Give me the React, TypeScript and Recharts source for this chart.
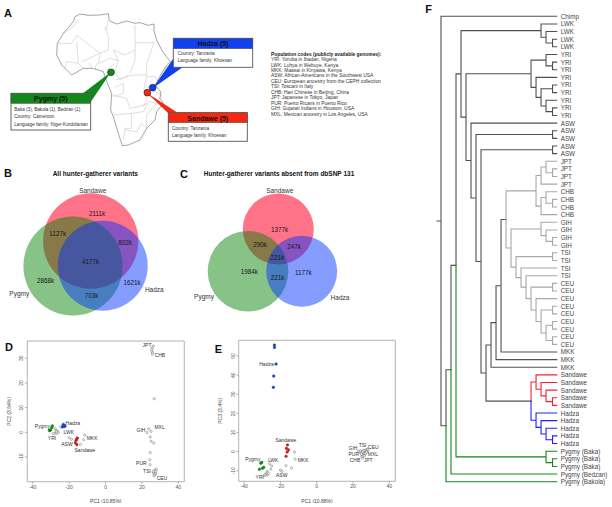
import { ComposedChart, Line, Scatter, ScatterChart, XAxis, YAxis, ReferenceArea } from 'recharts'

const FONT = '"Liberation Sans", Arial, sans-serif'
const DARK = '#505050'
const GRAY = '#a8a8a8'
const GREEN = '#12871a'
const RED = '#f5222d'
const BLUE = '#2222f0'

// ---------- panel A: map, traced in a 1260x495 grid ----------
const africaOutline = [
  [225, 50], [240, 42], [265, 46], [300, 45], [325, 41], [328, 62], [350, 72], [380, 63], [405, 70], [420, 68], [445, 76], [462, 72],
  [462, 92], [470, 120], [485, 150], [505, 178], [512, 184], [500, 195], [482, 225], [465, 255], [482, 275], [480, 295], [490, 310],
  [470, 335], [465, 360], [440, 385], [420, 420], [385, 435], [367, 437], [355, 400], [340, 350], [332, 330], [335, 280], [320, 245],
  [310, 215], [280, 205], [250, 205], [215, 225], [185, 195], [170, 165], [172, 130], [190, 100], [220, 65], [225, 50],
]
const countryBorders = [
  [[232, 62], [220, 80], [190, 100]],
  [[172, 130], [215, 130], [232, 105]],
  [[230, 105], [300, 160], [325, 150], [325, 110], [315, 80]],
  [[325, 62], [318, 90]],
  [[405, 75], [405, 150], [375, 165], [340, 150]],
  [[405, 128], [462, 128]],
  [[405, 150], [405, 180], [395, 205], [390, 220]],
  [[230, 125], [235, 190], [200, 185]],
  [[245, 185], [300, 160]],
  [[300, 165], [295, 190], [330, 175], [355, 182]],
  [[340, 150], [355, 182], [345, 215], [360, 240], [385, 225]],
  [[345, 240], [400, 225], [440, 225]],
  [[462, 128], [440, 190], [440, 225]],
  [[345, 262], [370, 250], [370, 280], [340, 290]],
  [[440, 225], [432, 265], [440, 300], [430, 320]],
  [[335, 285], [380, 295], [390, 325], [415, 320]],
  [[340, 345], [395, 340], [395, 385], [375, 385], [370, 420]],
  [[395, 340], [430, 335], [445, 310], [415, 320]],
  [[440, 260], [485, 285], [470, 310], [445, 305]],
  [[470, 310], [440, 345], [440, 385]],
  [[375, 390], [410, 395], [425, 370], [440, 385]],
  [[440, 230], [465, 230], [482, 255]],
  [[480, 225], [505, 195]],
  [[285, 210], [290, 190]],
  [[320, 210], [345, 190]],
  [[200, 185], [195, 205]],
  [[235, 190], [250, 205]],
  [[270, 190], [275, 205]],
]
const sites = [
  { x: 333, y: 217, fill: GREEN },
  { x: 458, y: 263, fill: '#1040f0' },
  { x: 442, y: 278, fill: '#f02a10' },
]
const populationCodes = [
  'YRI: Yoruba in Ibadan, Nigeria',
  'LWK: Luhya in Webuye, Kenya',
  'MKK: Maasai in Kinyawa, Kenya',
  'ASW: African-Americans in the Southwest USA',
  'CEU: European ancestry from the CEPH collection',
  'TSI: Toscani in Italy',
  'CHB: Han Chinese in Beijing, China',
  'JPT: Japanese in Tokyo, Japan',
  'PUR: Puerto Ricans in Puerto Rico',
  'GIH: Gujarati Indians in Houston, USA',
  'MXL: Mexican ancestry in Los Angeles, USA',
]

// ---------- panels B, C: venn counts ----------
const vennBCounts = ['2111k', '1127k', '802k', '4177k', '2868k', '1621k', '703k']
const vennCCounts = ['1377k', '290k', '247k', '221k', '1984k', '221k', '1177k']

// ---------- panels D, E: PCA coordinates ----------
const d_pygmy = [[-30.9, 0.8], [-30.2, 0.9], [-29.6, 1.9], [-29.2, 2.6], [-30.6, 0.8]]
const d_hadza = [[-23.2, 2.8], [-23.7, 2.2], [-22.6, 2.4], [-23.2, 3.2], [-22.3, 2.6]]
const d_sandawe = [[-15.5, -2.3], [-16.2, -3.2], [-16.6, -4.2], [-15.8, -5], [-15.8, -2.7]]
const d_others = [
  [-27.7, 1.5], [-27.2, 0.8], [-26.5, 0.5], [-28.7, -0.5], [-27.7, -0.3], [-25.9, 0], [-24.6, 2.2], [-26.8, -0.4], [-27, 0.2],
  [-19.9, -2.2], [-18.6, -2.8], [-13.8, -4.9], [-11.4, -1.2], [-12, -3],
  [26.3, 35], [25.7, 34.2], [25.4, 33.5], [25.5, 32.8], [25.9, 32.2], [25.7, 31.6], [26.8, 13.6],
  [23.7, 1.4], [22.8, -0.1], [25, 0.4], [24.6, -1.9], [25, -3.6], [26.5, -4.3], [24.6, -8.2], [24.3, -11.1], [24.5, -13.1],
  [27.9, -14.9], [27.2, -15.4], [26.8, -16.1], [26.3, -16.5], [27.6, -16.8], [27, -17.2], [26.3, -15.8], [26.6, -17.6], [27.7, -15.9],
]
const d_labels: [string, number, number][] = [
  ['Pygmy', -34.7, 2.7], ['Hadza', -18, 3.6], ['LWK', -20.2, 0.1], ['YRI', -29.4, -2.3], ['ASW', -21.2, -4.6], ['MKK', -7.4, -2.2],
  ['Sandawe', -11.3, -7], ['JPT', 22.8, 35.2], ['CHB', 29.9, 31.2], ['GIH', 19.5, 0.9], ['MXL', 29.7, 2.3], ['PUR', 19.7, -12.4],
  ['TSI', 22.8, -15.7], ['CEU', 31, -18.5],
]
const e_pygmy = [[-30.8, -6.1], [-30.3, -5.6], [-31.6, -9.2], [-29.9, -8.7], [-29.2, -8.2]]
const e_hadza = [[-23.3, 55.7], [-23.3, 54.5], [-22.4, 45.8], [-23.7, 39.5], [-23.9, 33.6]]
const e_sandawe = [[-16.1, 3.5], [-16.7, 1.7], [-15.6, 0.9], [-16.3, -0.2], [-16.9, -2.4]]
const e_others = [
  [-12.3, -0.2], [-11.9, -4], [-13.9, -8.5], [-16.9, -7.3], [-26, -6.4], [-24.8, -7.5], [-25.3, -9.2], [-27.3, -10.3], [-20, -9.6], [-19.1, -10.3],
  [-28.8, -12.5], [-28.1, -11.7], [-27.5, -11.3], [-27, -11], [-28.4, -12], [-27.3, -12.2], [-26.6, -11.5],
  [25.3, -2.8], [25.6, -2], [24.8, -1.5], [25.9, -1], [26.4, -1.5], [26, -0.3], [26.8, -0.5], [27.2, 0.2], [27, 0.8], [27.6, 1], [28, 0.6], [27.9, 1.3],
  [26.5, 0.6], [25.2, 0], [24.5, -0.8], [23.8, -0.2], [23, 0.2], [24, 0.5], [25.5, 0.8], [26.7, -1.1], [25.1, -3.4], [24.7, -2.5], [26.2, -2.2], [27.4, -0.3], [28.3, 0.9],
]
const e_labels: [string, number, number][] = [
  ['Hadza', -27.7, 45.8], ['Sandawe', -17, 5.9], ['Pygmy', -35.2, -4], ['LWK', -24, -4.4], ['YRI', -31.4, -13.2], ['ASW', -19.3, -12.2], ['MKK', -7.5, -4.2],
  ['TSI', 25.3, 3.5], ['GIH', 20, 1.7], ['CEU', 31.2, 2.4], ['PUR', 20.4, -1.2], ['MXL', 31, -1.2], ['CHB', 21.1, -4.4], ['JPT', 28.3, -4.4],
]

// ---------- panel F: tree, x is node depth ----------
type TreeNode = { d: number; kids?: TreeNode[]; name?: string; c?: string }
const TIP_DEPTH = 23.13
const t = (name: string, c?: string): TreeNode => ({ d: TIP_DEPTH, name, c })
const n = (d: number, kids: TreeNode[], c?: string): TreeNode => ({ d, kids, c })
const pair = (name: string) => n(22.3, [t(name), t(name)])
const four = (name: string) => n(20, [t(name), n(21, [t(name), pair(name)])])
const fourTop = (name: string) => n(20, [n(21, [t(name), pair(name)]), t(name)])
const five = (name: string, c: string) => n(19, [t(name), n(20, [t(name), n(21, [t(name), pair(name)])])], c)

const tree = n(0, [
  t('Chimp'),
  n(1, [
    n(2, [
      n(3, [
        n(4, [
          four('LWK'),
          n(5, [
            n(18, [
              n(21, [t('YRI'), pair('YRI')]),
              n(19, [t('YRI'), n(20, [pair('YRI'), n(21, [t('YRI'), pair('YRI')])])]),
            ]),
            n(6, [
              t('ASW'),
              n(7, [
                pair('ASW'),
                n(8, [
                  pair('ASW'),
                  n(9, [
                    n(10, [
                      n(11, [
                        n(12, [
                          n(13, [
                            n(19, [fourTop('JPT'), fourTop('CHB')], GRAY),
                            n(14, [
                              four('GIH'),
                              n(15, [
                                pair('TSI'),
                                n(16, [
                                  t('TSI'),
                                  n(17, [
                                    t('TSI'),
                                    n(18, [
                                      pair('CEU'),
                                      n(19, [t('CEU'), n(20, [pair('CEU'), n(21, [pair('CEU'), pair('CEU')])])]),
                                    ]),
                                  ]),
                                ]),
                              ]),
                            ], GRAY),
                          ]),
                          t('MKK'),
                        ]),
                        t('MKK'),
                      ]),
                      t('MKK'),
                    ]),
                    n(18, [five('Sandawe', RED), five('Hadza', BLUE)]),
                  ]),
                ]),
              ]),
            ]),
          ]),
        ]),
        n(21, [t('Pygmy (Baka)'), pair('Pygmy (Baka)')], GREEN),
      ]),
      t('Pygmy (Bedzan)', GREEN),
    ]),
    t('Pygmy (Bakola)', GREEN),
  ]),
])

const tipNames: string[] = []
const branchPaths: Record<string, { x: number; y: number | null }[]> = {}
function place(node: TreeNode, inherited: string): number {
  const color = node.c ?? inherited
  if (node.name) {
    tipNames.push(node.name)
    return tipNames.length - 1
  }
  const kids = node.kids!
  const ys = kids.map((kid) => place(kid, color))
  const y = (ys[0] + ys[ys.length - 1]) / 2
  kids.forEach((kid, i) => {
    const col = kid.c ?? color
    const path = branchPaths[col] ?? (branchPaths[col] = [])
    path.push({ x: node.d, y }, { x: node.d, y: ys[i] }, { x: kid.d, y: ys[i] }, { x: kid.d, y: null })
  })
  return y
}
const rootY = place(tree, DARK)
branchPaths[DARK].push({ x: -0.8, y: rootY }, { x: 0, y: rootY })
const tipTicks = tipNames.map((_, i) => i)

const toPoints = (rows: number[][]) => rows.map(([x, y]) => ({ x, y }))

function withBreaks(lines: number[][][]) {
  const out: { x: number; y: number | null }[] = []
  lines.forEach((line) => {
    line.forEach(([x, y]) => out.push({ x, y }))
    out.push({ x: line[line.length - 1][0], y: null })
  })
  return out
}

// the slight opacity keeps small text in grey antialiasing instead of coloured subpixels
const abs = (left: number, top: number) => ({ position: 'absolute' as const, left, top, opacity: 0.999 })

function MapPanel() {
  return (
    <div style={abs(0, 0)}>
      <ComposedChart width={420} height={165} margin={{ top: 0, right: 0, bottom: 0, left: 0 }}>
        <XAxis type="number" dataKey="x" domain={[0, 1260]} hide />
        <YAxis type="number" domain={[0, 495]} reversed hide />
        <Line data={withBreaks(countryBorders)} dataKey="y" stroke="#c8c8c8" strokeWidth={0.6} dot={false} isAnimationActive={false} />
        <Line data={toPoints(africaOutline)} dataKey="y" stroke="#808080" strokeWidth={0.7} dot={false} isAnimationActive={false} />
      </ComposedChart>
    </div>
  )
}

function Callout({ x, y, w, h, head, title, fill, lines, tx, ty }: any) {
  return (
    <g>
      <rect x={x} y={y} width={w} height={h} fill="#fff" stroke="#555" strokeWidth={0.9} />
      <rect x={x} y={y} width={w} height={head} fill={fill} stroke="#555" strokeWidth={0.6} />
      <text x={x + w / 2} y={y + head / 2 + 0.4} textAnchor="middle" dominantBaseline="central" fontSize={7} fontWeight={700} fill="#111">{title}</text>
      {lines.map((line: string, i: number) => (
        <text key={i} x={tx} y={ty + i * 7.5} dominantBaseline="central" fontSize={4.6} fill="#333">{line}</text>
      ))}
    </g>
  )
}

function Callouts() {
  return (
    <svg width={420} height={165} style={{ ...abs(0, 0), fontFamily: FONT }}>
      <polygon points="111,72 82,94 90,103" fill={GREEN} />
      <polygon points="153,88 173,59 183,67" fill="#1040f0" />
      <polygon points="147,93 168,113 178,113" fill="#f02a10" />
      <Callout x={11} y={93.3} w={79.7} h={36.7} head={10} title="Pygmy (5)" fill={GREEN} tx={14.3} ty={109}
        lines={['Baka (3), Bakola (1), Bedzan (1)', 'Country: Cameroon', 'Language family: Niger-Kordofanian']} />
      <Callout x={173.3} y={38.3} w={79.4} h={29} head={10.4} title="Hadza (5)" fill="#1040f0" tx={177.7} ty={53.3}
        lines={['Country: Tanzania', 'Language family: Khoesan']} />
      <Callout x={168.3} y={112.7} w={79} h={28.6} head={10} title="Sandawe (5)" fill="#f02a10" tx={172} ty={128}
        lines={['Country: Tanzania', 'Language family: Khoesan']} />
      <text x={271} y={54.3} dominantBaseline="central" fontSize={4.9} fontWeight={700} fill="#222">Population codes (publicly available genomes):</text>
      {populationCodes.map((line, i) => (
        <text key={line} x={271} y={59.6 + i * 5.45} dominantBaseline="central" fontSize={4.9} fill="#333">{line}</text>
      ))}
    </svg>
  )
}

function Sites() {
  return (
    <div style={abs(0, 0)}>
      <ScatterChart width={420} height={165} margin={{ top: 0, right: 0, bottom: 0, left: 0 }}>
        <XAxis type="number" dataKey="x" domain={[0, 1260]} hide />
        <YAxis type="number" dataKey="y" domain={[0, 495]} reversed hide />
        <Scatter
          data={sites}
          isAnimationActive={false}
          shape={(p: any) => <circle cx={p.cx} cy={p.cy} r={3.4} fill={p.payload.fill} stroke="#222" strokeWidth={0.6} />}
        />
      </ScatterChart>
    </div>
  )
}

function textShape(size: number, color = '#222', weight = 400) {
  return (p: any) => (
    <text x={p.cx} y={p.cy} textAnchor="middle" dominantBaseline="central" fontSize={size} fontWeight={weight} fill={color} fontFamily={FONT}>
      {p.payload.text}
    </text>
  )
}

const circleShape = (r: number, fill: string, opacity: number) => (p: any) =>
  <circle cx={p.cx} cy={p.cy} r={r} fill={fill} fillOpacity={opacity} />

function VennPanel() {
  const labelsB = [
    { x: 92.7, y: 190, text: 'Sandawe' }, { x: 19.3, y: 293.3, text: 'Pygmy' }, { x: 154.3, y: 289.3, text: 'Hadza' },
    { x: 204, y: 296.7, text: 'Pygmy' }, { x: 279.7, y: 190, text: 'Sandawe' }, { x: 340, y: 297, text: 'Hadza' },
  ]
  const spotsB = [[97, 213.7], [57.7, 233.3], [125, 242.3], [90.7, 261], [45.7, 280], [132, 282.3], [91.7, 295.3]]
  const spotsC = [[279.7, 229.3], [260, 244.3], [294, 246.7], [277.3, 257.3], [249.3, 271.7], [277.7, 277.3], [303.3, 272.3]]
  const counts = [
    ...vennBCounts.map((text, i) => ({ x: spotsB[i][0], y: spotsB[i][1], text })),
    ...vennCCounts.map((text, i) => ({ x: spotsC[i][0], y: spotsC[i][1], text })),
  ]
  return (
    <div style={abs(0, 165)}>
      <ScatterChart width={420} height={165} margin={{ top: 0, right: 0, bottom: 0, left: 0 }}>
        <XAxis type="number" dataKey="x" domain={[0, 420]} hide />
        <YAxis type="number" dataKey="y" domain={[165, 330]} reversed hide />
        <Scatter data={[{ x: 90.7, y: 241 }]} isAnimationActive={false} shape={circleShape(47.7, '#ff0028', 0.55)} />
        <Scatter data={[{ x: 73, y: 266 }]} isAnimationActive={false} shape={circleShape(49.6, '#008000', 0.47)} />
        <Scatter data={[{ x: 102.7, y: 265.7 }]} isAnimationActive={false} shape={circleShape(45, '#0032ff', 0.48)} />
        <Scatter data={[{ x: 278.3, y: 229 }]} isAnimationActive={false} shape={circleShape(35.5, '#ff0028', 0.55)} />
        <Scatter data={[{ x: 248, y: 271.3 }]} isAnimationActive={false} shape={circleShape(40.3, '#008000', 0.47)} />
        <Scatter data={[{ x: 301.7, y: 271.3 }]} isAnimationActive={false} shape={circleShape(35.5, '#0032ff', 0.48)} />
        <Scatter data={labelsB} isAnimationActive={false} shape={textShape(6.5, '#333')} />
        <Scatter data={counts} isAnimationActive={false} shape={textShape(6.3, '#181818')} />
        <Scatter
          data={[
            { x: 95.3, y: 173.7, text: 'All hunter-gatherer variants' },
            { x: 279, y: 173.7, text: 'Hunter-gatherer variants absent from dbSNP 131' },
          ]}
          isAnimationActive={false}
          shape={textShape(6.5, '#111', 700)}
        />
      </ScatterChart>
    </div>
  )
}

const dotShape = (fill: string, r = 1.3, stroke = fill) => (p: any) =>
  <circle cx={p.cx} cy={p.cy} r={r} fill={fill} stroke={stroke} strokeWidth={0.5} />

function PcaPanel({ left, top, width, height, box, xDomain, yDomain, yTicks, xLabel, yLabel, others, pygmy, hadza, sandawe, labels }: any) {
  const yTick = (p: any) => (
    <text transform={`rotate(-90 ${p.x} ${p.y})`} x={p.x} y={p.y} textAnchor="middle" fontSize={5} fill="#555" fontFamily={FONT}>{p.payload.value}</text>
  )
  return (
    <div style={abs(left, top)}>
      <ScatterChart width={width} height={height} margin={{ top: box.top, right: box.right, bottom: 0, left: 0 }}>
        <XAxis
          type="number" dataKey="x" domain={xDomain} ticks={[-40, -20, 0, 20, 40]} height={box.bottom}
          axisLine={false} tickLine={{ stroke: '#888', strokeWidth: 0.6 }} tickSize={2.5} tickMargin={1}
          tick={{ fontSize: 5, fill: '#555', fontFamily: FONT }} interval={0}
          label={{ value: xLabel, position: 'insideBottom', offset: 0, fontSize: 5, fill: '#444', fontFamily: FONT }}
        />
        <YAxis
          type="number" dataKey="y" domain={yDomain} ticks={yTicks} width={box.left}
          axisLine={false} tickLine={{ stroke: '#888', strokeWidth: 0.6 }} tickSize={2.5} tickMargin={1.5}
          tick={yTick} interval={0}
          label={{ value: yLabel, angle: -90, position: 'insideLeft', offset: 5, fontSize: 5, fill: '#444', fontFamily: FONT, style: { textAnchor: 'middle' } }}
        />
        <ReferenceArea x1={xDomain[0]} x2={xDomain[1]} y1={yDomain[0]} y2={yDomain[1]} fill="none" stroke="#a0a0a0" strokeWidth={0.8} ifOverflow="visible" />
        <Scatter data={toPoints(others)} isAnimationActive={false} shape={dotShape('#fff', 1.1, '#6a6a6a')} />
        <Scatter data={toPoints(pygmy)} isAnimationActive={false} shape={dotShape(GREEN)} />
        <Scatter data={toPoints(hadza)} isAnimationActive={false} shape={dotShape('#2040c0')} />
        <Scatter data={toPoints(sandawe)} isAnimationActive={false} shape={dotShape('#c02020')} />
        <Scatter data={labels.map(([text, x, y]: any) => ({ text, x, y }))} isAnimationActive={false} shape={textShape(5, '#333')} />
      </ScatterChart>
    </div>
  )
}

const tipLabel = (p: any) => (
  <text x={p.x} y={p.y} dominantBaseline="central" textAnchor="start" fontSize={6.3} fill="#444" fontFamily={FONT}>
    {tipNames[p.payload.value]}
  </text>
)

function TreePanel() {
  return (
    <div style={abs(420, 0)}>
      <ComposedChart width={192} height={507} margin={{ top: 16.3, right: 0, bottom: 25.3, left: 16 }}>
        <XAxis type="number" dataKey="x" domain={[-1, TIP_DEPTH]} hide />
        <YAxis
          orientation="right" type="number" domain={[0, 61]} reversed ticks={tipTicks} interval={0} width={55.3}
          axisLine={false} tickLine={false} tickSize={0} tickMargin={4} tick={tipLabel}
        />
        {Object.entries(branchPaths).map(([color, data]) => (
          <Line key={color} data={data} dataKey="y" stroke={color} strokeWidth={1.1} strokeLinecap="square" dot={false} isAnimationActive={false} />
        ))}
      </ComposedChart>
    </div>
  )
}

const panelLetters = [
  { text: 'A', x: 8, y: 13 }, { text: 'B', x: 8, y: 172.5 }, { text: 'C', x: 184, y: 174 },
  { text: 'D', x: 9, y: 347 }, { text: 'E', x: 218.5, y: 349 }, { text: 'F', x: 428.5, y: 8.5 },
]

export default function App() {
  return (
    <div style={{ position: 'absolute', left: 0, top: 0, width: 612, height: 507, background: '#fff', fontFamily: FONT, overflow: 'hidden' }}>
      <MapPanel />
      <Callouts />
      <Sites />
      <VennPanel />
      <PcaPanel
        left={4} top={335} width={188} height={168}
        box={{ left: 23.3, right: 7.7, top: 6, bottom: 21.3 }}
        xDomain={[-43, 43.3]} yDomain={[-20, 37]} yTicks={[-10, 0, 10, 20, 30]}
        xLabel="PC1 (10.85%)" yLabel="PC2 (3.54%)"
        others={d_others} pygmy={d_pygmy} hadza={d_hadza} sandawe={d_sandawe} labels={d_labels}
      />
      <PcaPanel
        left={215} top={335} width={188} height={168}
        box={{ left: 23.7, right: 7.7, top: 5.3, bottom: 21.7 }}
        xDomain={[-43, 43.3]} yDomain={[-15.5, 58.2]} yTicks={[-10, 0, 10, 20, 30, 40, 50]}
        xLabel="PC1 (10.88%)" yLabel="PC3 (3.4%)"
        others={e_others} pygmy={e_pygmy} hadza={e_hadza} sandawe={e_sandawe} labels={e_labels}
      />
      <TreePanel />
      <svg width={612} height={507} style={{ ...abs(0, 0), pointerEvents: 'none' }}>
        {panelLetters.map((l) => (
          <text key={l.text} x={l.x} y={l.y} textAnchor="middle" dominantBaseline="central" fontSize={11} fontWeight={700} fill="#111" fontFamily={FONT}>{l.text}</text>
        ))}
      </svg>
    </div>
  )
}
